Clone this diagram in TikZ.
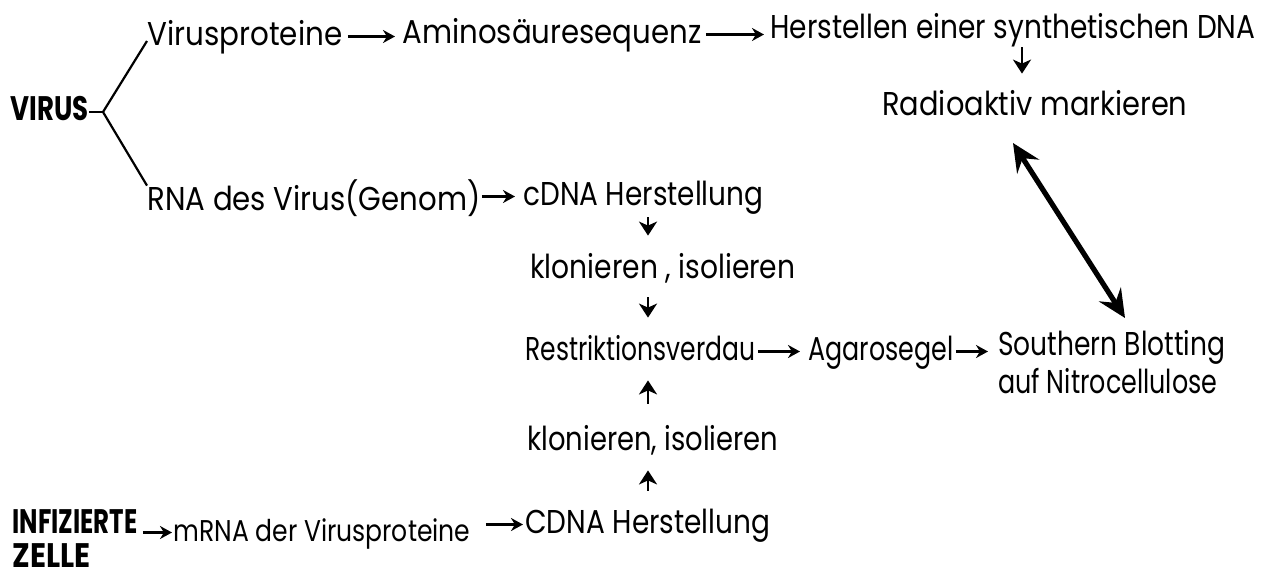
\documentclass[tikz,border=0pt]{standalone}
\usepackage{fontspec}
\setmainfont{Poppins}
\usetikzlibrary{arrows.meta,calc}
\newcommand\hw[2]{\resizebox{#1}{\height}{#2}}
\begin{document}
\begin{tikzpicture}[x=0.5pt,y=-0.5pt,
 lbl/.style={anchor=base west, inner sep=0pt, text height=12pt, text depth=3.5pt, font=\fontsize{16.5}{19}\selectfont},
 small/.style={lbl, font=\fontsize{15}{17}\selectfont},
 big/.style={lbl, font=\fontsize{17}{20}\selectfont\bfseries, text height=12pt, text depth=0pt},
 arr/.style={-{Stealth[length=6pt,width=6.5pt]}, line width=1.1pt},
 varr/.style={-{Stealth[length=7pt,width=9pt,inset=2pt]}, line width=1.3pt},
 ln/.style={line width=1.1pt},
 dbl/.style={{Stealth[length=14pt,width=13pt,inset=5pt]}-{Stealth[length=14pt,width=13pt,inset=5pt]}, line width=2.6pt}]
\fill[white] (0,0) rectangle (1269,579);
\useasboundingbox (0,0) rectangle (1269,579);
% texts
\node[big] (virus) at (10,120) {\hw{39pt}{VIRUS}};
\node[lbl] (vp) at (147,45) {\hw{97.5pt}{Virusproteine}};
\node[lbl] (as) at (402,43) {\hw{149.5pt}{Aminosäuresequenz}};
\node[lbl] (her) at (770,38) {\hw{242.5pt}{Herstellen einer synthetischen DNA}};
\node[lbl] (rad) at (882,115) {\hw{152.5pt}{Radioaktiv markieren}};
\node[lbl] (rna) at (147,210) {\hw{166.5pt}{RNA des Virus(Genom)}};
\node[lbl] (cd) at (523,205) {\hw{120pt}{cDNA Herstellung}};
\node[lbl] (kl1) at (530,278) {\hw{132.5pt}{klonieren , isolieren}};
\node[lbl] (rv) at (525,360) {\hw{115pt}{Restriktionsverdau}};
\node[lbl] (ag) at (808,360) {\hw{72.5pt}{Agarosegel}};
\node[lbl] (sb) at (998,355) {\hw{113.5pt}{Southern Blotting}};
\node[lbl] (nc) at (998,393) {\hw{109.5pt}{auf Nitrocellulose}};
\node[lbl] (kl2) at (527,450) {\hw{125.5pt}{klonieren, isolieren}};
\node[big] (inf) at (12,533) {\hw{62.5pt}{INFIZIERTE}};
\node[big] (ze) at (12,567) {\hw{39pt}{ZELLE}};
\node[small] (mr) at (173,541) {\hw{148.5pt}{mRNA der Virusproteine}};
\node[lbl] (cd2) at (525,533) {\hw{122.5pt}{CDNA Herstellung}};
% branch
\coordinate (br) at (103,112);
\draw[ln] (br -| virus.east) -- (br);
\draw[ln] (br) -- ([yshift=2pt]vp.base west);
\draw[ln] (br) -- (rna.north west);
% horizontal arrows
\draw[arr, shorten <=2.5pt, shorten >=3.5pt] (vp.east) -- (vp.east -| as.west);
\draw[arr, shorten <=2pt, shorten >=3pt] (as.east) -- (as.east -| her.west);
\draw[arr, shorten <=0.5pt, shorten >=4pt] (rna.east |- cd.west) -- (cd.west);
\draw[arr, shorten <=1pt, shorten >=4pt] (rv.east) -- (ag.west);
\draw[arr, shorten <=1pt, shorten >=5pt] (ag.east) -- (ag.east -| sb.west);
\draw[arr, shorten <=2.5pt, shorten >=0.5pt] (inf.east |- mr.west) -- (mr.west);
\draw[arr, shorten <=7.5pt, shorten >=1pt] (mr.east |- cd2.west) -- (cd2.west);
% vertical arrows
\coordinate (xa) at (1022,0);
\coordinate (xb) at (648,0);
\draw[varr, shorten <=1pt, shorten >=8.5pt] (her.south -| xa) -- (rad.north -| xa);
\draw[varr, shorten <=2.5pt, shorten >=9pt] (cd.south -| xb) -- (kl1.north -| xb);
\draw[varr, shorten <=6pt, shorten >=9pt] (kl1.south -| xb) -- (rv.north -| xb);
\draw[varr, shorten <=11pt, shorten >=6.5pt] (kl2.north -| xb) -- (rv.south -| xb);
\draw[varr, shorten <=9pt, shorten >=6.5pt] (cd2.north -| xb) -- (kl2.south -| xb);
% double arrow
\coordinate (dt) at (1013,143);
\coordinate (db) at (1125,318);
\draw[dbl] (dt) -- (db);
\end{tikzpicture}
\end{document}
